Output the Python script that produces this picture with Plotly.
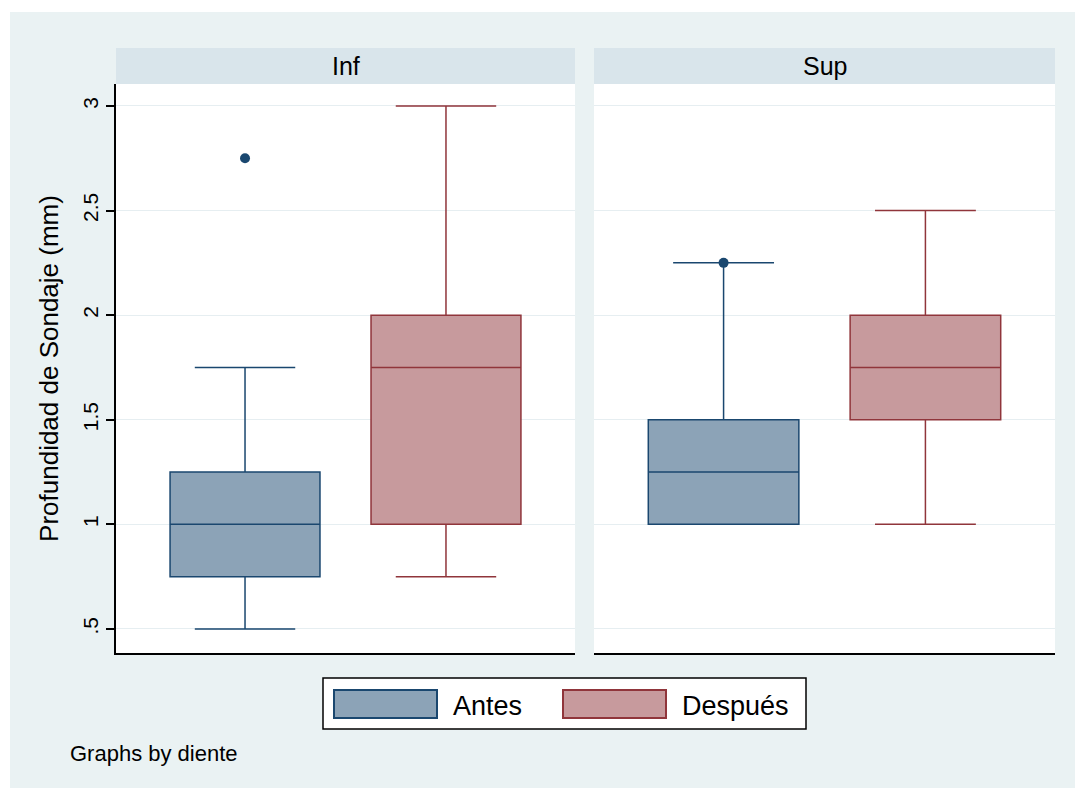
import plotly.graph_objects as go

# Box-plot summaries of probing depth by tooth group (diente)
groups = ["Inf", "Sup"]
series = ["Antes", "Después"]

antes_low = [0.5, 1.0]
antes_q1 = [0.75, 1.0]
antes_median = [1.0, 1.25]
antes_q3 = [1.25, 1.5]
antes_high = [1.75, 2.25]
antes_outliers = [[2.75], [2.25]]

despues_low = [0.75, 1.0]
despues_q1 = [1.0, 1.5]
despues_median = [1.75, 1.75]
despues_q3 = [2.0, 2.0]
despues_high = [3.0, 2.5]
despues_outliers = [[], []]

y_ticks = [0.5, 1, 1.5, 2, 2.5, 3]
y_tick_labels = [".5", "1", "1.5", "2", "2.5", "3"]

W, H = 1077, 789
FONT = "Liberation Sans, Arial, sans-serif"

NAVY = "#1A476F"
NAVY_FILL = "#8CA3B7"
MAROON = "#90353B"
MAROON_FILL = "#C79A9D"
BG = "#EAF2F3"
STRIP = "#D9E5EB"
GRID = "#E6EEF1"


def px_x(p):
    return p / W


def px_y(p):
    return 1 - p / H


panels = [(116, 575), (594, 1055)]
plot_top, plot_bottom = 84, 653
strip_top = 48

fig = go.Figure()

stats = {
    "Antes": (antes_low, antes_q1, antes_median, antes_q3, antes_high, antes_outliers, NAVY, NAVY_FILL, 0),
    "Después": (despues_low, despues_q1, despues_median, despues_q3, despues_high, despues_outliers, MAROON, MAROON_FILL, 1),
}

for gi, g in enumerate(groups):
    xa = "x" if gi == 0 else "x2"
    ya = "y" if gi == 0 else "y2"
    for name in series:
        lo, q1, med, q3, hi, outs, lc, fc, pos = stats[name]
        fig.add_trace(go.Box(
            x=[pos], q1=[q1[gi]], median=[med[gi]], q3=[q3[gi]],
            lowerfence=[lo[gi]], upperfence=[hi[gi]],
            width=0.746, whiskerwidth=0.67,
            fillcolor=fc, line=dict(color=lc, width=1.5),
            boxpoints=False, name=name, showlegend=False,
            hoverinfo="skip", xaxis=xa, yaxis=ya,
        ))
        if outs[gi]:
            fig.add_trace(go.Scatter(
                x=[pos] * len(outs[gi]), y=outs[gi], mode="markers",
                marker=dict(color=lc, size=10, symbol="circle"),
                showlegend=False, hoverinfo="skip", xaxis=xa, yaxis=ya,
            ))

x_range = [-0.642, 1.642]
y_range = [0.385, 3.105]
y_domain = [px_y(plot_bottom), px_y(plot_top)]

common_x = dict(range=x_range, showticklabels=False, ticks="", showgrid=False,
                zeroline=False, showline=True, linecolor="black", linewidth=1.5,
                mirror=False, fixedrange=True)
common_y = dict(range=y_range, tickvals=y_ticks, ticktext=y_tick_labels,
                showgrid=True, gridcolor=GRID, gridwidth=1, zeroline=False,
                fixedrange=True)

# white margin around the tinted graph region
shapes = [
    dict(type="rect", xref="paper", yref="paper", x0=0, x1=px_x(10), y0=0, y1=1,
         fillcolor="white", line=dict(width=0), layer="above"),
    dict(type="rect", xref="paper", yref="paper", x0=px_x(1075), x1=1, y0=0, y1=1,
         fillcolor="white", line=dict(width=0), layer="above"),
    dict(type="rect", xref="paper", yref="paper", x0=0, x1=1, y0=px_y(12), y1=1,
         fillcolor="white", line=dict(width=0), layer="above"),
    dict(type="rect", xref="paper", yref="paper", x0=0, x1=1, y0=0, y1=px_y(788),
         fillcolor="white", line=dict(width=0), layer="above"),
]
annotations = []
for (x0, x1), g in zip(panels, groups):
    shapes.append(dict(type="rect", xref="paper", yref="paper",
                       x0=px_x(x0), x1=px_x(x1), y0=px_y(plot_top), y1=px_y(strip_top),
                       fillcolor=STRIP, line=dict(width=0), layer="below"))
    annotations.append(dict(text=g, xref="paper", yref="paper",
                            x=px_x((x0 + x1) / 2), y=px_y((strip_top + plot_top) / 2),
                            showarrow=False, xanchor="center", yanchor="middle",
                            font=dict(family=FONT, size=25, color="black")))

# legend key
shapes.append(dict(type="rect", xref="paper", yref="paper", x0=px_x(323), x1=px_x(806),
                   y0=px_y(729), y1=px_y(678), fillcolor="white",
                   line=dict(color="black", width=1.5)))
legend_items = [("Antes", NAVY, NAVY_FILL, 334), ("Después", MAROON, MAROON_FILL, 563)]
for name, lc, fc, sx in legend_items:
    shapes.append(dict(type="rect", xref="paper", yref="paper", x0=px_x(sx), x1=px_x(sx + 103),
                       y0=px_y(718), y1=px_y(690), fillcolor=fc, line=dict(color=lc, width=2)))
    annotations.append(dict(text=name, xref="paper", yref="paper", x=px_x(sx + 117), y=px_y(706),
                            showarrow=False, xanchor="left", yanchor="middle",
                            font=dict(family=FONT, size=27, color="black")))

annotations.append(dict(text="Graphs by diente", xref="paper", yref="paper",
                        x=px_x(68), y=px_y(753), showarrow=False, xanchor="left",
                        yanchor="middle", font=dict(family=FONT, size=22, color="black")))

fig.update_layout(
    width=W, height=H,
    margin=dict(l=0, r=0, t=0, b=0),
    paper_bgcolor=BG, plot_bgcolor="white",
    showlegend=False,
    font=dict(family=FONT, color="black"),
    xaxis=dict(domain=[px_x(116), px_x(575)], anchor="y", **common_x),
    xaxis2=dict(domain=[px_x(594), px_x(1055)], anchor="y2", **common_x),
    yaxis=dict(domain=y_domain, anchor="x", showline=True, linecolor="black", linewidth=1.5,
               ticks="outside", ticklen=8, tickwidth=1.5, tickcolor="black",
               tickangle=-90, tickfont=dict(family=FONT, size=21, color="black"),
               title=dict(text="Profundidad de Sondaje (mm)", standoff=13,
                          font=dict(family=FONT, size=26, color="black")),
               **common_y),
    yaxis2=dict(domain=y_domain, anchor="x2", showline=False, ticks="",
                showticklabels=False, **common_y),
    shapes=shapes,
    annotations=annotations,
)

fig.write_html("out.html")
